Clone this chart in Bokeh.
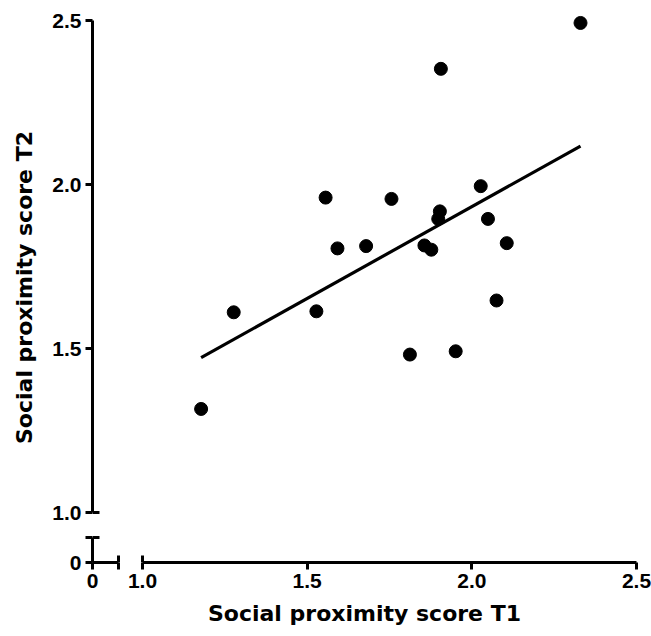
import numpy as np
from bokeh.plotting import figure
from bokeh.models import Range1d, LinearAxis, FixedTicker, CustomJSTickFormatter
from bokeh.embed import file_html
from bokeh.resources import INLINE

# ---- data ----
t1 = [1.178, 1.277, 1.528, 1.556, 1.592, 1.679, 1.756, 1.812, 1.856, 1.877,
      1.898, 1.903, 1.906, 1.951, 2.027, 2.049, 2.075, 2.106, 2.330]
t2 = [1.316, 1.611, 1.614, 1.961, 1.806, 1.813, 1.957, 1.482, 1.815, 1.802,
      1.896, 1.919, 2.354, 1.492, 1.996, 1.896, 1.647, 1.822, 2.494]
x_ticks = [1.0, 1.5, 2.0, 2.5]
y_ticks = [1.0, 1.5, 2.0, 2.5]
x_tick_labels = ["1.0", "1.5", "2.0", "2.5"]
y_tick_labels = ["1.0", "1.5", "2.0", "2.5"]
zero_label = "0"
x_label = "Social proximity score T1"
y_label = "Social proximity score T2"

# linear regression line over the data's x extent
slope, intercept = np.polyfit(t1, t2, 1)
fit_x = [min(t1), max(t1)]
fit_y = [intercept + slope * v for v in fit_x]

# ---- layout (broken axes: a short "0" stub, a gap, then 1.0 .. 2.5) ----
XPX = 329.33   # px per unit along x
YPX = 327.67   # px per unit along y
GAP_TO_ONE = 50          # px from the axis origin to the 1.0 tick
X_STUB, Y_STUB = 26, 25  # px length of the "0" stubs
FRAME_W, FRAME_H = 544, 550
X0 = x_ticks[0] - GAP_TO_ONE / XPX
X1 = X0 + FRAME_W / XPX
Y0 = y_ticks[0] - GAP_TO_ONE / YPX
Y1 = Y0 + FRAME_H / YPX
X_BRK = X0 + X_STUB / XPX
Y_BRK = Y0 + Y_STUB / YPX

TICK_FONT = "Liberation Sans"
LABEL_FONT = "DejaVu Sans"
LW = 3
TICK = 7

p = figure(width=651, height=636, x_range=Range1d(X0, X1), y_range=Range1d(Y0, Y1),
           output_backend="svg", toolbar_location=None,
           min_border_left=92, min_border_right=15, min_border_top=12, min_border_bottom=74)
p.grid.visible = False
p.outline_line_color = None
p.background_fill_color = "white"
p.border_fill_color = "white"


def tick_formatter(tick_values, tick_texts):
    return CustomJSTickFormatter(
        args=dict(tv=tick_values, tl=tick_texts),
        code="""
        for (let i = 0; i < tv.length; i++) {
            if (Math.abs(tv[i] - tick) < 1e-9) { return tl[i] }
        }
        return ""
        """)


def style(ax, ticks, tin, tout, labels=True, line=True):
    ax.ticker = FixedTicker(ticks=ticks)
    ax.minor_tick_line_color = None
    ax.major_tick_in = tin
    ax.major_tick_out = tout
    ax.major_tick_line_width = LW
    ax.major_tick_line_color = "black"
    ax.axis_line_width = LW
    ax.axis_line_color = "black" if line else None
    ax.major_label_text_font = TICK_FONT
    ax.major_label_text_font_style = "bold"
    ax.major_label_text_font_size = "21px"
    ax.major_label_text_color = "black" if labels else None
    ax.axis_label_text_font = LABEL_FONT
    ax.axis_label_text_font_style = "bold"
    ax.axis_label_text_font_size = "22px"
    ax.axis_label_text_color = "black"


# main x axis: stub at 0, gap, then 1.0 .. 2.5 (gap made by the dash pattern)
xa = p.xaxis[0]
xt = [X0, X_BRK] + x_ticks
style(xa, xt, 0, TICK)
xa.bounds = (X0, x_ticks[-1])
xa.formatter = tick_formatter(xt, [zero_label, ""] + x_tick_labels)
xa.axis_line_dash = f"{X_STUB} {GAP_TO_ONE - X_STUB} 1000"
xa.major_label_standoff = 4
xa.axis_label = x_label
xa.axis_label_standoff = 10

ya = p.yaxis[0]
yt = [Y0, Y_BRK] + y_ticks
style(ya, yt, 0, TICK)
ya.bounds = (Y0, y_ticks[-1])
ya.formatter = tick_formatter(yt, [zero_label, ""] + y_tick_labels)
ya.axis_line_dash = f"{Y_STUB} {GAP_TO_ONE - Y_STUB} 1000"
ya.major_label_standoff = 4
ya.axis_label = y_label
ya.axis_label_standoff = 12

# inner halves of the break markers (ticks crossing the axis at the gap)
xb = LinearAxis(fixed_location=Y0)
style(xb, [X_BRK, x_ticks[0]], TICK, 0, labels=False, line=False)
p.add_layout(xb, "below")
yb = LinearAxis(fixed_location=X0)
style(yb, [Y_BRK, y_ticks[0]], TICK, 0, labels=False, line=False)
p.add_layout(yb, "left")

# data
p.line(fit_x, fit_y, line_color="black", line_width=3.2)
p.scatter(t1, t2, size=13, fill_color="black", line_color="black")

open("out.html", "w").write(file_html(p, INLINE))
